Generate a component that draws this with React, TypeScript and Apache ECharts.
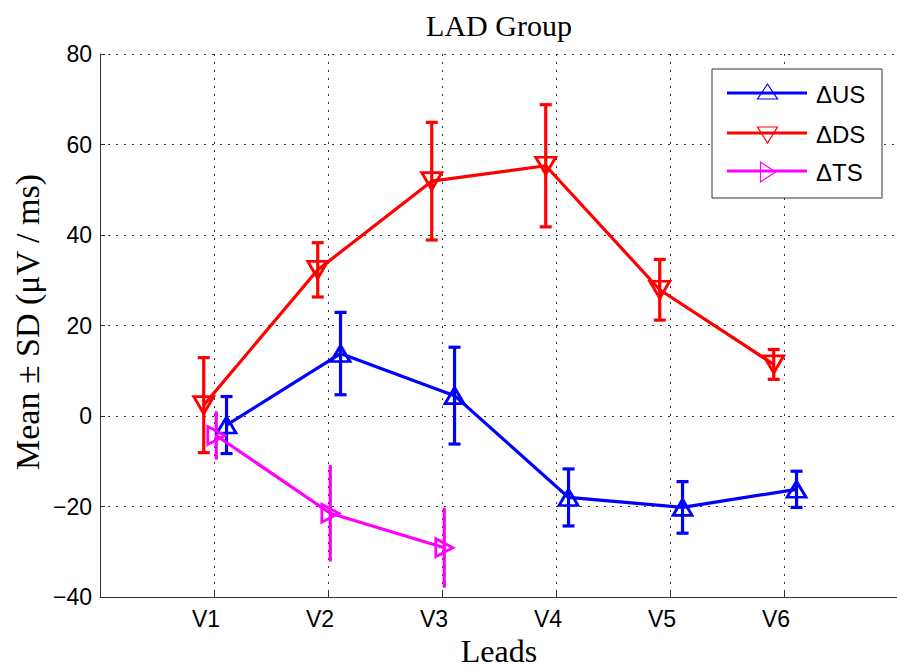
import React, { useEffect, useRef } from "react";
import * as echarts from "echarts";

// Leads on the horizontal axis
const leads = ["V1", "V2", "V3", "V4", "V5", "V6"];

// Mean and SD per lead (µV / ms)
const usMean = [-2.0, 13.8, 4.5, -18.0, -20.2, -16.2];
const usSd = [6.3, 9.1, 10.7, 6.3, 5.7, 4.0];
const dsMean = [2.4, 32.3, 51.9, 55.3, 27.9, 11.4];
const dsSd = [10.5, 6.0, 13.0, 13.5, 6.7, 3.3];
const tsMean = [-4.3, -21.5, -29.1];
const tsSd = [5.0, 10.3, 8.5];

// y axis range and step
const yMin = -40;
const yMax = 80;
const yStep = 20;

const BLUE = "#0000ff";
const RED = "#ff0000";
const MAGENTA = "#ff00ff";

// small horizontal shifts so the three groups don't overlap
const US_SHIFT = 0.11;
const DS_SHIFT = -0.09;
const TS_SHIFT = 0.02;

const SANS = "'Liberation Sans', Arial, Helvetica, sans-serif";
const SERIF = "'Liberation Serif', 'Times New Roman', serif";

function points(means: number[], shift: number) {
  return means.map((m, i) => [i + 1 + shift, m]);
}

function bars(means: number[], sds: number[], shift: number) {
  return means.map((m, i) => [i + 1 + shift, m - sds[i], m + sds[i]]);
}

function errorSeries(
  name: string,
  data: number[][],
  color: string,
  cap: number
) {
  return {
    type: "custom",
    name,
    data,
    encode: { x: 0, y: [1, 2] },
    z: 3,
    renderItem: (_params: any, api: any) => {
      const x = api.value(0);
      const top = api.coord([x, api.value(2)]);
      const bot = api.coord([x, api.value(1)]);
      const style = { stroke: color, lineWidth: 3.2 };
      return {
        type: "group",
        children: [
          {
            type: "line",
            shape: { x1: top[0], y1: top[1], x2: bot[0], y2: bot[1] },
            style,
          },
          {
            type: "line",
            shape: { x1: top[0] - cap, y1: top[1], x2: top[0] + cap, y2: top[1] },
            style,
          },
          {
            type: "line",
            shape: { x1: bot[0] - cap, y1: bot[1], x2: bot[0] + cap, y2: bot[1] },
            style,
          },
        ],
      };
    },
  };
}

function lineSeries(
  name: string,
  data: number[][],
  color: string,
  rotate: number,
  size: number[]
) {
  return {
    type: "line",
    name,
    data,
    z: 4,
    symbol: "triangle",
    symbolSize: size,
    symbolRotate: rotate,
    showAllSymbol: true,
    lineStyle: { color, width: 3.2 },
    itemStyle: { color: "rgba(0,0,0,0)", borderColor: color, borderWidth: 2.8 },
  };
}

export default function App() {
  const ref = useRef<HTMLDivElement>(null);

  useEffect(() => {
    if (!ref.current) return;
    const chart = echarts.init(ref.current, undefined, { renderer: "svg" });

    const gridLine = { color: "#333", width: 1, type: [2, 6] as number[] };

    // legend box entries
    const legendRows = [
      { label: "\u0394US", color: BLUE, y: 93 },
      { label: "\u0394DS", color: RED, y: 133 },
      { label: "\u0394TS", color: MAGENTA, y: 171 },
    ];
    const mx = 767.5;
    const legendMarkers = [
      [[mx, 84], [mx + 10, 99], [mx - 10, 99]],
      [[mx - 10, 127], [mx + 10, 127], [mx, 143]],
      [[mx - 7, 162], [mx + 8, 172], [mx - 7, 182]],
    ];

    const graphic: any[] = [
      {
        type: "text",
        x: 499,
        y: 25,
        style: {
          text: "LAD Group",
          font: `30px ${SERIF}`,
          fill: "#000",
          textAlign: "center",
          textVerticalAlign: "middle",
        },
      },
      {
        type: "text",
        x: 499,
        y: 651,
        style: {
          text: "Leads",
          font: `32px ${SERIF}`,
          fill: "#000",
          textAlign: "center",
          textVerticalAlign: "middle",
        },
      },
      {
        type: "text",
        x: 27,
        y: 322,
        rotation: Math.PI / 2,
        style: {
          text: "Mean \u00b1 SD (\u03bcV / ms)",
          font: `34px ${SERIF}`,
          fill: "#000",
          textAlign: "center",
          textVerticalAlign: "middle",
        },
      },
      {
        type: "rect",
        z: 100,
        shape: { x: 712, y: 69, width: 170, height: 129 },
        style: { fill: "#fff", stroke: "#333", lineWidth: 1 },
      },
    ];
    legendRows.forEach((row, i) => {
      graphic.push({
        type: "line",
        z: 101,
        shape: { x1: 727, y1: row.y, x2: 807, y2: row.y },
        style: { stroke: row.color, lineWidth: 3 },
      });
      graphic.push({
        type: "polygon",
        z: 102,
        shape: { points: legendMarkers[i] },
        style: { fill: "none", stroke: row.color, lineWidth: 1.2 },
      });
      graphic.push({
        type: "text",
        z: 102,
        x: 816,
        y: row.y + 1,
        style: {
          text: row.label,
          font: `24px ${SANS}`,
          fill: "#000",
          textAlign: "left",
          textVerticalAlign: "middle",
        },
      });
    });

    chart.setOption({
      animation: false,
      backgroundColor: "#fff",
      grid: {
        left: 100,
        top: 54,
        width: 798,
        height: 543,
        containLabel: false,
        outerBoundsMode: "none",
      },
      xAxis: {
        type: "value",
        min: 0,
        max: 7,
        interval: 1,
        axisLine: { show: true, onZero: false, lineStyle: { color: "#333", width: 1 } },
        axisTick: { show: true, inside: true, length: 5, lineStyle: { color: "#333" } },
        axisLabel: {
          fontFamily: SANS,
          fontSize: 23,
          color: "#000",
          margin: 10,
          padding: [0, 16, 0, 0],
          formatter: (v: number) =>
            v >= 1 && v <= leads.length ? leads[Math.round(v) - 1] : "",
        },
        splitLine: { show: true, lineStyle: gridLine },
      },
      yAxis: {
        type: "value",
        min: yMin,
        max: yMax,
        interval: yStep,
        axisLine: { show: true, onZero: false, lineStyle: { color: "#333", width: 1 } },
        axisTick: { show: true, inside: true, length: 5, lineStyle: { color: "#333" } },
        axisLabel: {
          fontFamily: SANS,
          fontSize: 23,
          color: "#000",
          margin: 8,
          formatter: (v: number) => String(v).replace("-", "\u2212"),
        },
        splitLine: { show: true, lineStyle: gridLine },
      },
      series: [
        errorSeries("\u0394US SD", bars(usMean, usSd, US_SHIFT), BLUE, 6),
        errorSeries("\u0394DS SD", bars(dsMean, dsSd, DS_SHIFT), RED, 6),
        errorSeries("\u0394TS SD", bars(tsMean, tsSd, TS_SHIFT), MAGENTA, 1.5),
        lineSeries("\u0394US", points(usMean, US_SHIFT), BLUE, 0, [19, 16]),
        lineSeries("\u0394DS", points(dsMean, DS_SHIFT), RED, 180, [20, 17]),
        lineSeries("\u0394TS", points(tsMean, TS_SHIFT), MAGENTA, -90, [18, 17]),
      ],
      graphic,
    });

    return () => chart.dispose();
  }, []);

  return (
    <div
      ref={ref}
      style={{ position: "fixed", left: 0, top: 0, width: 897, height: 670 }}
    />
  );
}
